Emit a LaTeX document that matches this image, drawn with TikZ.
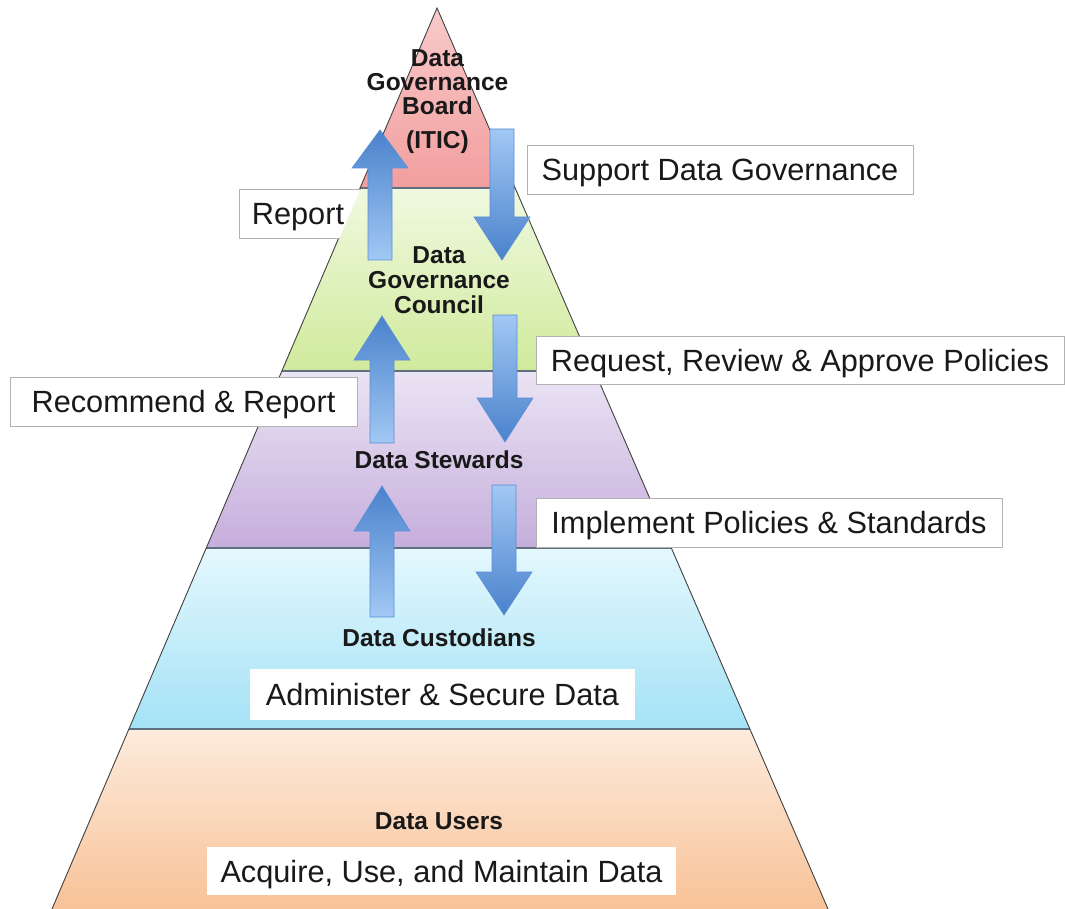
\documentclass[tikz,border=0pt]{standalone}
\usepackage{fontspec}
\setmainfont{Liberation Sans}
\definecolor{redT}{HTML}{F9CACA}
\definecolor{redB}{HTML}{F29E9E}
\definecolor{grnT}{HTML}{F0F9E0}
\definecolor{grnB}{HTML}{D0EA9C}
\definecolor{purT}{HTML}{EBE4F4}
\definecolor{purB}{HTML}{C6AEDC}
\definecolor{cynT}{HTML}{E4F8FD}
\definecolor{cynB}{HTML}{A4E2F6}
\definecolor{orgT}{HTML}{FDEBDD}
\definecolor{orgB}{HTML}{F8C297}
\definecolor{arrL}{HTML}{A2C8F4}
\definecolor{arrD}{HTML}{4A82CC}
\definecolor{arrE}{HTML}{5A8ED6}
\definecolor{sepC}{HTML}{5F6F7F}
\begin{document}
\begin{tikzpicture}[x=1pt,y=-1pt,
  lbl/.style={fill=white, draw=black!30, line width=0.8pt, inner sep=0pt,
    text height=22pt, text depth=0pt,
    font=\fontsize{30.7}{36}\selectfont, text=black!90},
  lblnb/.style={lbl, draw=none},
  lvl/.style={font=\fontsize{24.5}{25}\selectfont\bfseries, align=center, inner sep=0pt, text=black!90},
  sep/.style={draw=sepC, line width=1.1pt},
  upar/.style={top color=arrD, bottom color=arrL, draw=arrE, line width=0.6pt},
  dnar/.style={top color=arrL, bottom color=arrD, draw=arrE, line width=0.6pt}]
\useasboundingbox (0,0) rectangle (1065,909);
\fill[white] (0,0) rectangle (1065,909);
% pyramid bands
\coordinate (apex) at (437,8);
\coordinate (bl) at (52,909);
\coordinate (br) at (828,909);
\shade[top color=redT, bottom color=redB] (apex) -- (515.1,188) -- (360.1,188) -- cycle;
\shade[top color=grnT, bottom color=grnB] (360.1,188) -- (515.1,188) -- (594.5,371) -- (281.9,371) -- cycle;
\shade[top color=purT, bottom color=purB] (281.9,371) -- (594.5,371) -- (671.4,548) -- (206.3,548) -- cycle;
\shade[top color=cynT, bottom color=cynB] (206.3,548) -- (671.4,548) -- (749.9,729) -- (128.9,729) -- cycle;
\shade[top color=orgT, bottom color=orgB] (128.9,729) -- (749.9,729) -- (br) -- (bl) -- cycle;
\draw[sep] (360.1,188) -- (515.1,188);
\draw[sep] (281.9,371) -- (594.5,371);
\draw[sep] (206.3,548) -- (671.4,548);
\draw[sep] (128.9,729) -- (749.9,729);
\draw[black!75, line width=0.9pt] (bl) -- (apex) -- (br);
% Report box, cut by the pyramid edge
\fill[white] (239,189) -- (360.6,189) -- (339.7,238) -- (239,238) -- cycle;
\draw[black!30, line width=0.8pt] (360.6,189) -- (239,189) -- (239,238) -- (339.7,238);
\node[font=\fontsize{30.7}{36}\selectfont, text=black!90, inner sep=0pt, text height=22pt, text depth=0pt] (report) at (298,213.5) {Report};
% label boxes
\node[lbl, minimum width=386pt, minimum height=49pt] (support) at (720,169.5) {Support Data Governance};
\node[lbl, minimum width=347pt, minimum height=49pt] (recommend) at (183.5,401.5) {Recommend \& Report};
\node[lbl, minimum width=528pt, minimum height=48pt] (request) at (800,360) {Request, Review \& Approve Policies};
\node[lbl, minimum width=466pt, minimum height=49pt] (implement) at (769,522.5) {Implement Policies \& Standards};
\node[lblnb, minimum width=385pt, minimum height=51pt] (administer) at (442.5,694.5) {Administer \& Secure Data};
\node[lblnb, minimum width=469pt, minimum height=48pt] (acquire) at (441.5,871) {Acquire, Use, and Maintain Data};
% arrows
\shadedraw[upar] (380,130) -- (408,168) -- (392,168) -- (392,260) -- (368,260) -- (368,168) -- (352,168) -- cycle;
\shadedraw[upar] (382,316) -- (410,360) -- (394,360) -- (394,443) -- (370,443) -- (370,360) -- (354,360) -- cycle;
\shadedraw[upar] (382,486) -- (410,531) -- (394,531) -- (394,617) -- (370,617) -- (370,531) -- (354,531) -- cycle;
\shadedraw[dnar] (490,129) -- (514,129) -- (514,217) -- (530,217) -- (502,260) -- (474,217) -- (490,217) -- cycle;
\shadedraw[dnar] (493,315) -- (517,315) -- (517,398) -- (533,398) -- (505,442) -- (477,398) -- (493,398) -- cycle;
\shadedraw[dnar] (492,485) -- (516,485) -- (516,572) -- (532,572) -- (504,615) -- (476,572) -- (492,572) -- cycle;
% level names
\node[lvl, font=\fontsize{24.5}{24}\selectfont\bfseries] (board) at (437.5,82) {Data\\Governance\\Board};
\node[lvl] (itic) at (437.5,142) {(ITIC)};
\node[lvl] (council) at (439,280) {Data\\Governance\\Council};
\node[lvl] (stewards) at (439,460) {Data Stewards};
\node[lvl] (custodians) at (439,638) {Data Custodians};
\node[lvl] (users) at (439,821) {Data Users};
\end{tikzpicture}
\end{document}
